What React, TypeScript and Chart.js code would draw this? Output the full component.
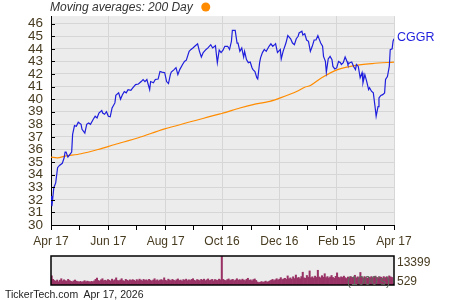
import React, { useEffect, useRef } from "react";
import { Chart, registerables } from "chart.js";

Chart.register(...registerables);

// ---- data ----
const symbol = "CGGR";
const titleText = "Moving averages: 200 Day";
const footerText = "TickerTech.com  Apr 17, 2026";
const volumeUnitText = "(1000's)";

// days since Apr 17 2025
const majorTickDays = [0, 61, 122, 182, 243, 304, 365];
const majorTickLabels = ["Apr 17", "Jun 17", "Aug 17", "Oct 16", "Dec 16", "Feb 15", "Apr 17"];
const minorTickDays = [30, 91, 152, 213, 273, 334];
const priceTickValues = [30, 31, 32, 33, 34, 35, 36, 37, 38, 39, 40, 41, 42, 43, 44, 45, 46];

const priceDays = [
  0, 1, 3, 5, 7, 9, 12, 14, 15, 16, 18, 20, 22, 23, 25, 27, 29, 32, 33, 36,
  38, 40, 42, 45, 47, 49, 51, 54, 55, 57, 59, 61, 63, 65, 68, 69, 72, 74, 76, 78,
  80, 82, 85, 87, 90, 93, 96, 98, 100, 102, 105, 106, 109, 111, 114, 116, 118, 121, 123, 125,
  127, 128, 131, 133, 135, 137, 140, 142, 144, 147, 149, 151, 153, 156, 158, 160, 162, 165, 167, 170,
  172, 175, 176, 177, 179, 181, 183, 185, 188, 190, 192, 193, 196, 198, 199, 201, 203, 205, 206, 208,
  210, 212, 214, 215, 217, 219, 220, 222, 223, 225, 227, 229, 231, 232, 234, 236, 238, 239, 241, 244,
  245, 247, 250, 252, 255, 257, 259, 261, 263, 264, 267, 268, 270, 272, 274, 276, 278, 280, 282, 284,
  285, 287, 289, 290, 292, 293, 295, 297, 299, 300, 302, 304, 306, 308, 309, 311, 313, 315, 316, 318,
  320, 322, 324, 325, 327, 329, 331, 332, 334, 336, 338, 339, 341, 343, 345, 346, 348, 349, 351, 353,
  355, 356, 358, 360, 361, 363, 364, 365,
];
const priceValues = [
  32.3, 31.5, 32.96, 33.35, 34.55, 34.73, 34.9, 35.34, 35.8, 35.8, 35.4, 35.6, 35.8, 37.2, 37.9, 37.85, 38.17, 38.0, 37.6, 37.3,
  38.0, 38.1, 38.0, 38.4, 38.64, 38.5, 38.9, 39.1, 38.9, 38.8, 39.0, 38.64, 38.6, 39.3, 39.7, 40.3, 40.5, 40.0, 40.35, 40.6,
  40.5, 40.76, 40.7, 40.9, 41.16, 41.2, 41.4, 41.56, 41.4, 41.56, 40.76, 41.4, 41.3, 41.56, 41.6, 42.2, 42.15, 42.1, 41.4, 41.24,
  41.95, 42.15, 42.35, 42.5, 41.95, 42.35, 42.75, 43.0, 43.1, 43.8, 43.95, 44.07, 44.2, 44.39, 43.8, 43.35, 43.7, 43.95, 44.07, 44.33,
  44.07, 44.25, 43.55, 42.9, 43.9, 43.7, 43.9, 44.2, 44.2, 43.95, 44.6, 45.47, 45.47, 44.46, 44.46, 43.8, 44.07, 43.35, 43.8, 43.14,
  42.9, 42.95, 42.48, 42.35, 42.2, 41.7, 41.6, 42.9, 43.28, 43.7, 43.95, 43.8, 44.07, 44.2, 44.4, 44.2, 44.33, 44.4, 43.7, 43.95,
  43.2, 43.8, 44.46, 45.05, 44.8, 44.46, 44.33, 44.8, 45.0, 45.26, 45.4, 45.1, 45.2, 44.7, 44.6, 43.8, 44.2, 44.7, 44.7, 45.05,
  44.85, 44.46, 44.2, 43.4, 43.0, 42.14, 43.2, 43.4, 43.14, 42.6, 42.4, 42.48, 43.0, 42.9, 42.75, 42.9, 43.35, 43.0, 42.75, 42.9,
  42.95, 42.6, 42.35, 42.75, 42.6, 41.7, 42.1, 41.3, 41.95, 41.4, 40.76, 40.9, 40.63, 40.5, 39.3, 38.64, 39.4, 40.1, 40.3, 40.36,
  40.5, 41.56, 41.8, 42.6, 43.94, 44.0, 44.6, 44.8,
];

const maDays = [0, 7, 15, 32, 50, 68, 93, 121, 180, 185, 201, 215, 233, 244, 262, 270, 276, 288, 305, 323, 342, 365];
const maValues = [35.39, 35.34, 35.47, 35.66, 36.0, 36.4, 36.93, 37.64, 38.83, 38.93, 39.3, 39.57, 39.83, 40.1, 40.63, 40.95, 41.08, 41.7, 42.35, 42.67, 42.83, 42.95];

// volume in 1000's, one bar per trading day
const volumeValues = [
  4200, 2600, 2100, 1700, 2300, 1500, 2200, 2900, 1900, 2400,
  2000, 1800, 2600, 2100, 1700, 1500, 1900, 2300, 1800, 1600,
  1400, 1700, 1300, 1600, 2000, 1500, 1800, 1600, 1400, 1700,
  1500, 1900, 2600, 3200, 2100, 1800, 2400, 2900, 2000, 2200,
  1900, 2500, 2200, 1800, 2700, 2000, 2400, 3300, 2100, 1900,
  2300, 2900, 2000, 1800, 2600, 2200, 1900, 2400, 2100, 2500,
  2200, 1800, 2500, 2000, 2700, 2300, 1900, 2600, 2100, 2400,
  2000, 2600, 2200, 1800, 2300, 2900, 2000, 2400, 1900, 2300,
  2500, 2100, 3300, 2200, 1900, 2700, 2300, 2000, 2600, 2200,
  1900, 2400, 2800, 2100, 2300, 1800, 2500, 2200, 2700, 2000,
  2400, 2100, 2600, 2900, 2200, 1900, 2500, 2300, 2000, 2600,
  2200, 2700, 2000, 2400, 2800, 2100, 2300, 2600, 1900, 2500,
  2300, 2100, 2700, 2400, 13399, 2600, 2200, 2000, 2500, 2800,
  2100, 2400, 2600, 2000, 2300, 2900, 2200, 2500, 2100, 2700,
  2300, 2000, 2600, 3100, 2200, 2400, 1900, 2500, 2800, 2100,
  1400, 1100, 1300, 1600, 1200, 1500, 1800, 1300, 1600, 1900,
  2200, 2600, 2000, 2400, 2900, 2300, 2700, 3400, 2500, 2800,
  3100, 2600, 4200, 2900, 3300, 2700, 3800, 3000, 4600, 3200,
  3500, 2900, 3900, 5900, 3300, 3100, 4400, 3600, 6500, 3400,
  3800, 3200, 4100, 3500, 6800, 3700, 3300, 4300, 3600, 5200,
  3400, 3900, 3200, 3700, 4400, 3500, 3100, 4000, 5600, 3600,
  3300, 3800, 3500, 4100, 3400, 3000, 3700, 3200, 3900, 3500,
  3600, 4500, 3300, 3800, 3400, 5800, 3700, 3200, 3900, 3500,
  3100, 3600, 3400, 3900, 3200, 3700, 4100, 3500, 3300, 3800,
  3600, 3200, 3900, 3400, 3700, 3300, 4200, 3800, 3500, 529,
];

const FONT = '"Liberation Sans", Arial, sans-serif';
const LABEL_COLOR = "#473b20";
const PLOT_BG = "#ececec";
const GRID = "#d6d6d6";
const PRICE_COLOR = "#1f1fdd";
const MA_COLOR = "#ff8c00";

export default function App() {
  const priceRef = useRef<HTMLCanvasElement>(null);
  const volRef = useRef<HTMLCanvasElement>(null);

  useEffect(() => {
    const bgPlugin = {
      id: "plotBg",
      beforeDraw(chart: any) {
        const { ctx, chartArea: a } = chart;
        ctx.save();
        ctx.fillStyle = PLOT_BG;
        ctx.fillRect(a.left, a.top, a.right - a.left, a.bottom - a.top);
        ctx.restore();
      },
    };

    const priceDecor = {
      id: "priceDecor",
      afterDraw(chart: any) {
        const { ctx, chartArea: a } = chart;
        ctx.save();
        // title
        ctx.font = `italic 12px ${FONT}`;
        ctx.fillStyle = "#333333";
        ctx.textBaseline = "middle";
        ctx.textAlign = "left";
        ctx.fillText(titleText, 50, 7.5);
        const w = ctx.measureText(titleText).width;
        ctx.beginPath();
        ctx.fillStyle = MA_COLOR;
        ctx.arc(50 + w + 13, 7, 4.5, 0, Math.PI * 2);
        ctx.fill();
        // inner y ticks
        const ys = chart.scales.y;
        ctx.strokeStyle = "#000";
        ctx.lineWidth = 1;
        for (const v of priceTickValues) {
          const py = Math.round(ys.getPixelForValue(v)) + 0.5;
          ctx.beginPath();
          ctx.moveTo(a.left, py);
          ctx.lineTo(a.left + 4, py);
          ctx.stroke();
        }
        // symbol label
        const meta = chart.getDatasetMeta(0);
        const last = meta.data[meta.data.length - 1];
        ctx.font = `12.5px ${FONT}`;
        ctx.fillStyle = PRICE_COLOR;
        ctx.textAlign = "left";
        ctx.textBaseline = "middle";
        ctx.fillText(symbol, last.x + 3, last.y - 1);
        ctx.restore();
      },
    };

    const price = new Chart(priceRef.current!, {
      type: "line",
      data: {
        datasets: [
          {
            data: priceDays.map((d, i) => ({ x: d, y: priceValues[i] })),
            borderColor: PRICE_COLOR,
            borderWidth: 1.2,
            pointRadius: 0,
            tension: 0,
          },
          {
            data: maDays.map((d, i) => ({ x: d, y: maValues[i] })),
            borderColor: MA_COLOR,
            borderWidth: 1.2,
            pointRadius: 0,
            tension: 0.3,
          },
        ],
      },
      options: {
        animation: false,
        responsive: false,
        devicePixelRatio: 1,
        layout: { padding: { left: 0, right: 56, top: 16, bottom: 0 } },
        plugins: { legend: { display: false }, tooltip: { enabled: false }, title: { display: false } },
        scales: {
          x: {
            type: "linear",
            min: 0,
            max: 365,
            afterBuildTicks: (s: any) => {
              s.ticks = [...majorTickDays, ...minorTickDays].sort((a, b) => a - b).map((v) => ({ value: v }));
            },
            afterFit: (s: any) => {
              s.height = 25;
            },
            ticks: {
              autoSkip: false,
              maxRotation: 0,
              padding: 4,
              color: LABEL_COLOR,
              font: { family: FONT, size: 12 },
              callback: (v: any) => {
                const i = majorTickDays.indexOf(Number(v));
                return i >= 0 ? majorTickLabels[i] : "";
              },
            },
            grid: {
              color: (c: any) => (c.tick && majorTickDays.includes(c.tick.value) ? GRID : "rgba(0,0,0,0)"),
              tickColor: "#000",
              tickLength: 5,
              drawTicks: true,
            },
            border: { display: true, color: "#000", width: 1 },
          },
          y: {
            type: "linear",
            min: 30,
            max: 46.6,
            afterBuildTicks: (s: any) => {
              s.ticks = priceTickValues.map((v) => ({ value: v }));
            },
            afterFit: (s: any) => {
              s.width = 51;
            },
            ticks: {
              autoSkip: false,
              padding: 8,
              color: LABEL_COLOR,
              font: { family: FONT, size: 13.5 },
            },
            grid: { color: GRID, drawTicks: false },
            border: { display: true, color: "#000", width: 1 },
          },
        },
      },
      plugins: [bgPlugin, priceDecor],
    });

    const maxVol = Math.max(...volumeValues);
    const minVol = Math.min(...volumeValues);

    const volDecor = {
      id: "volDecor",
      afterDraw(chart: any) {
        const { ctx, chartArea: a } = chart;
        ctx.save();
        ctx.strokeStyle = "#000";
        ctx.lineWidth = 1.5;
        ctx.strokeRect(a.left, a.top, a.right - a.left, a.bottom - a.top);
        ctx.font = `12px ${FONT}`;
        ctx.textBaseline = "middle";
        ctx.textAlign = "right";
        ctx.fillStyle = "#5d6d5d";
        ctx.fillText(volumeUnitText, a.right - 4, a.bottom - 3.5);
        ctx.textAlign = "left";
        ctx.fillStyle = LABEL_COLOR;
        ctx.fillText(String(maxVol), a.right + 3, a.top + 7);
        ctx.fillText(String(minVol), a.right + 3, a.bottom - 3.5);
        ctx.restore();
      },
    };

    const vol = new Chart(volRef.current!, {
      type: "bar",
      data: {
        labels: volumeValues.map((_, i) => String(i)),
        datasets: [
          {
            data: volumeValues,
            backgroundColor: "#993366",
            borderWidth: 0,
            barPercentage: 1,
            categoryPercentage: 1,
          },
        ],
      },
      options: {
        animation: false,
        responsive: false,
        devicePixelRatio: 1,
        layout: { padding: { left: 51, right: 56, top: 6, bottom: 15 } },
        plugins: { legend: { display: false }, tooltip: { enabled: false } },
        scales: {
          x: { display: false },
          y: { display: false, min: 0, max: maxVol },
        },
      },
      plugins: [bgPlugin, volDecor],
    });

    return () => {
      price.destroy();
      vol.destroy();
    };
  }, []);

  return (
    <div style={{ position: "fixed", left: 0, top: 0, width: 450, height: 300, background: "#fff", overflow: "hidden" }}>
      <canvas ref={priceRef} width={450} height={250} style={{ position: "absolute", left: 0, top: 0, width: 450, height: 250 }} />
      <canvas ref={volRef} width={450} height={50} style={{ position: "absolute", left: 0, top: 250, width: 450, height: 50 }} />
      <div
        style={{
          position: "absolute",
          left: 5,
          top: 288,
          fontFamily: FONT,
          fontSize: "10.5px",
          lineHeight: "12px",
          color: "#222",
          whiteSpace: "pre",
        }}
      >
        {footerText}
      </div>
    </div>
  );
}
